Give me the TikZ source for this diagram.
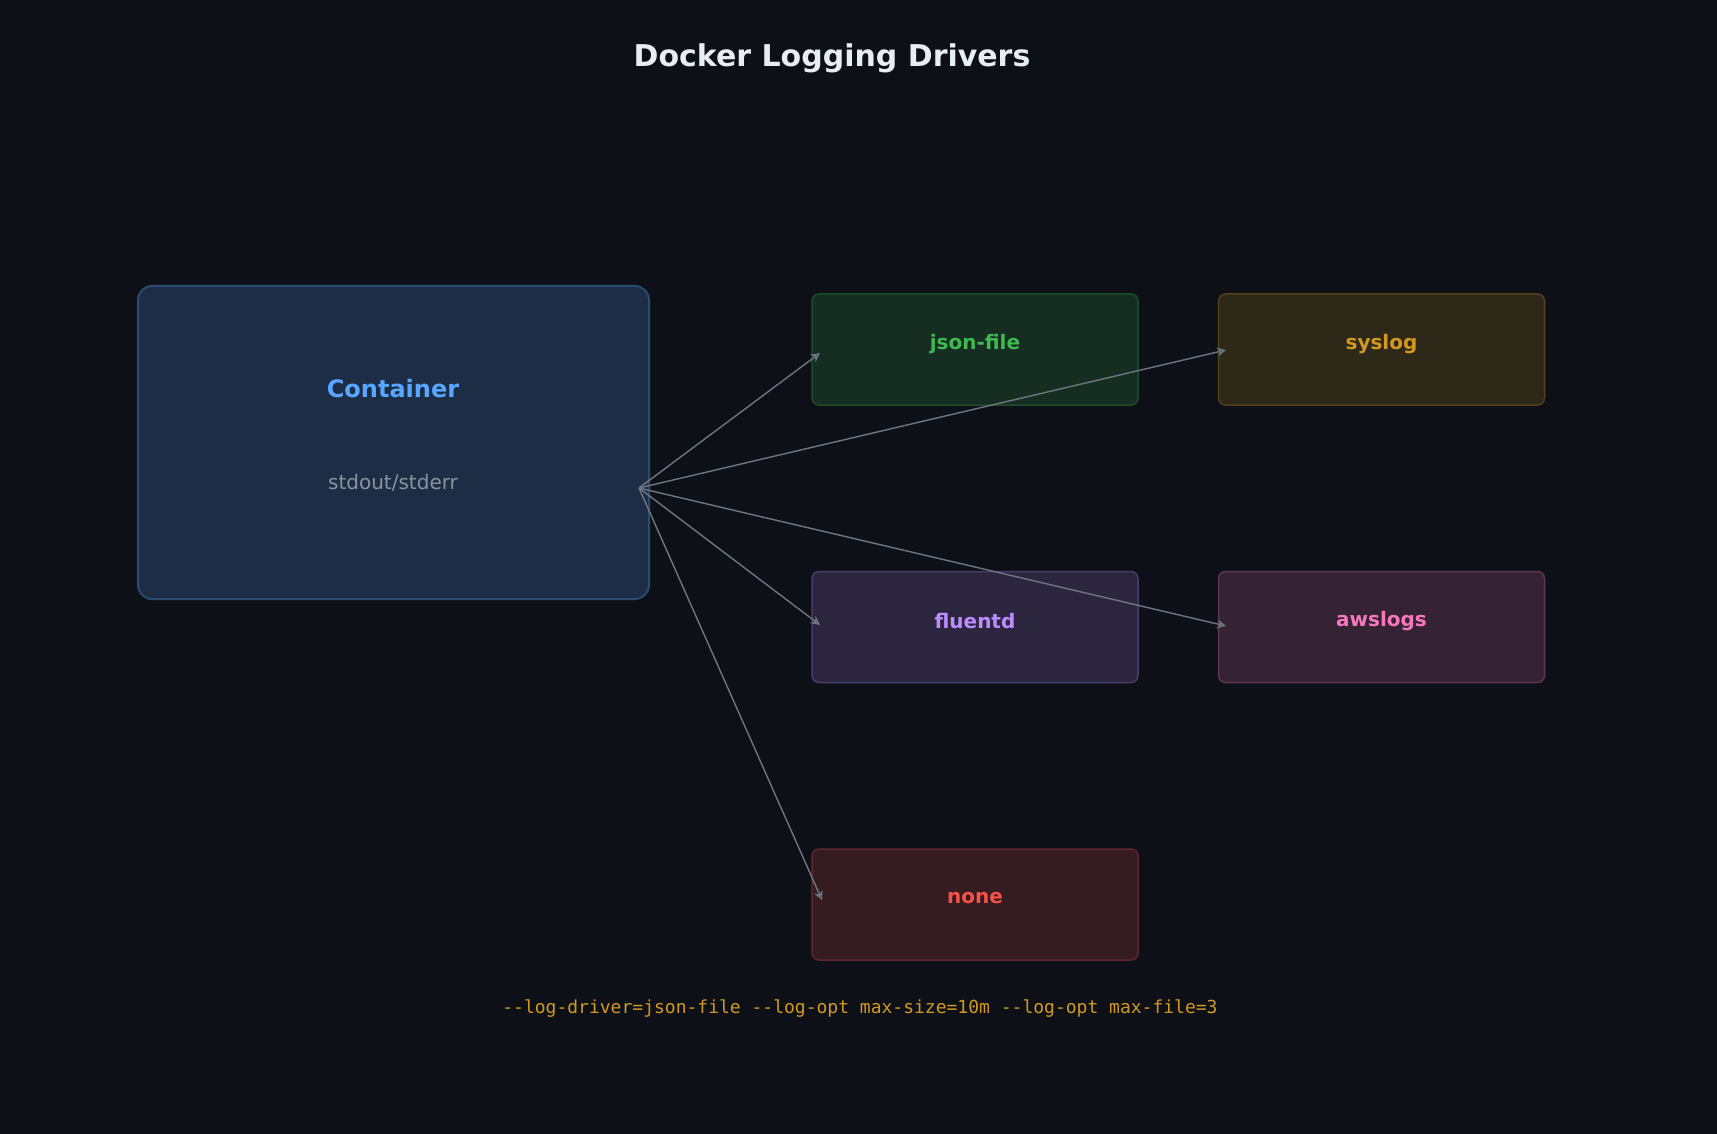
\documentclass[tikz,border=0pt]{standalone}
\usepackage{fontspec}
\setmainfont{DejaVu Sans}
\setmonofont{DejaVu Sans Mono}
\usetikzlibrary{arrows.meta}
\definecolor{bg}{HTML}{0D1117}
\definecolor{arr}{HTML}{6E7681}
\definecolor{cg}{HTML}{3FB950}\definecolor{cy}{HTML}{D29922}\definecolor{cp}{HTML}{BC8CFF}
\definecolor{ck}{HTML}{F778BA}\definecolor{cr}{HTML}{F85149}
\definecolor{cbf}{HTML}{1C2D45}\definecolor{cbd}{HTML}{2A4A70}\definecolor{cb}{HTML}{58A6FF}
\definecolor{gtx}{HTML}{8B949E}\definecolor{ttl}{HTML}{E6EDF3}
\tikzset{x=1pt,y=-1pt,
 drv/.style={draw=#1!35!bg,fill=#1!17!bg,rounded corners=7pt,line width=1.5pt,minimum width=326pt,minimum height=111pt,inner sep=0pt},
 lab/.style={text=#1,font=\fontsize{20}{24}\selectfont\bfseries},
 con/.style={draw=arr,line width=1.4pt,-{Stealth[open,length=9pt,width=9pt]}}}
\begin{document}
\begin{tikzpicture}
\fill[bg] (0,0) rectangle (1717,1134);
\useasboundingbox (0,0) rectangle (1717,1134);
\node[text=ttl,font=\fontsize{30}{36}\selectfont\bfseries] (title) at (832,58) {Docker Logging Drivers};
\node[draw=cbd,fill=cbf,rounded corners=14pt,line width=2pt,minimum width=511pt,minimum height=313pt] (cont) at (393.5,442.5) {};
\node[text=cb,font=\fontsize{24}{28}\selectfont\bfseries] (ct) at (393,389) {Container};
\node[text=gtx,font=\fontsize{20}{24}\selectfont] (cs) at (393,483) {stdout/stderr};
\coordinate (src) at (639,488);
\node[drv=cg] (json) at (975,349.5) {};
\node[lab=cg] at (975,344) {json-file};
\node[drv=cy] (sys) at (1381.5,349.5) {};
\node[lab=cy] at (1381.5,344) {syslog};
\node[drv=cp] (flu) at (975,627) {};
\node[lab=cp] at (975,621) {fluentd};
\node[drv=ck] (aws) at (1381.5,627) {};
\node[lab=ck] at (1381.5,621) {awslogs};
\node[drv=cr] (none) at (975,904.5) {};
\node[lab=cr] at (975,898) {none};
\coordinate (tj) at (820,353);
\coordinate (ts) at (1226,350);
\coordinate (tf) at (820,625);
\coordinate (ta) at (1226,626);
\coordinate (tn) at (822,900);
\foreach \t in {tj,ts,tf,ta,tn} \draw[con] (src) -- (\t);
\node[text=cy,font=\ttfamily\fontsize{18}{22}\selectfont] (cmd) at (860,1009) {--log-driver=json-file --log-opt max-size=10m --log-opt max-file=3};
\end{tikzpicture}
\end{document}
